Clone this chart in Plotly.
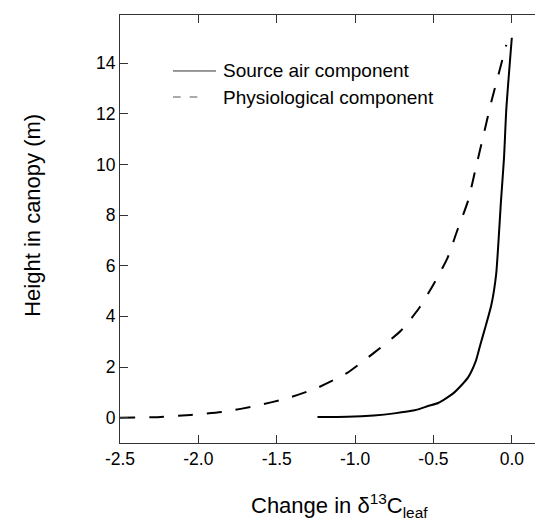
import plotly.graph_objects as go

# Source air component (solid)
source_x = [-1.24, -1.05, -0.88, -0.75, -0.62, -0.53, -0.47, -0.37, -0.28, -0.23,
            -0.20, -0.17, -0.13, -0.10, -0.085, -0.07, -0.05, -0.035, 0.0]
source_y = [0.03, 0.04, 0.09, 0.17, 0.29, 0.47, 0.58, 0.98, 1.58, 2.23,
            2.90, 3.55, 4.47, 5.66, 6.97, 8.48, 10.24, 12.19, 15.00]

# Physiological component (dashed)
physio_x = [-2.5, -2.26, -2.05, -1.83, -1.63, -1.43, -1.24, -1.05, -0.88, -0.71,
            -0.59, -0.50, -0.41, -0.35, -0.28, -0.225, -0.18, -0.13, -0.08, -0.035]
physio_y = [0.0, 0.02, 0.11, 0.24, 0.47, 0.77, 1.18, 1.77, 2.56, 3.42,
            4.34, 5.26, 6.31, 7.36, 8.55, 9.99, 11.17, 12.49, 13.67, 14.72]

x_ticks = [-2.5, -2.0, -1.5, -1.0, -0.5, 0.0]
x_tick_labels = ["-2.5", "-2.0", "-1.5", "-1.0", "-0.5", "0.0"]
y_ticks = [0, 2, 4, 6, 8, 10, 12, 14]
y_tick_labels = ["0", "2", "4", "6", "8", "10", "12", "14"]

legend_names = ["Source air component", "Physiological component"]

FONT = "Liberation Sans, Arial, Helvetica, sans-serif"

fig = go.Figure()
fig.add_trace(go.Scatter(x=source_x, y=source_y, mode="lines", name=legend_names[0],
                         line=dict(color="black", width=2, shape="spline", smoothing=0.6),
                         showlegend=False))
fig.add_trace(go.Scatter(x=physio_x, y=physio_y, mode="lines", name=legend_names[1],
                         line=dict(color="black", width=2, dash="15px,14px", shape="spline", smoothing=0.6),
                         showlegend=False))

axis_common = dict(
    showgrid=False, zeroline=False, showline=True, linecolor="#333", linewidth=1,
    mirror="ticks", ticks="inside", ticklen=8, tickcolor="#333", tickwidth=1,
    tickfont=dict(family=FONT, size=17.5, color="black"),
)

fig.update_xaxes(range=[-2.5, 0.25], tickvals=x_ticks, ticktext=x_tick_labels, **axis_common)
fig.update_yaxes(range=[-1, 15.9], tickvals=y_ticks, ticktext=y_tick_labels, **axis_common)

# manual legend
row1, row2 = 0.8692, 0.8084
fig.add_shape(type="line", xref="paper", yref="paper", x0=0.123, x1=0.2227, y0=row1, y1=row1,
              line=dict(color="#333", width=1))
for x0, x1 in [(0.123, 0.1408), (0.1617, 0.1794)]:
    fig.add_shape(type="line", xref="paper", yref="paper", x0=x0, x1=x1, y0=row2, y1=row2,
                  line=dict(color="#555", width=1))
fig.add_annotation(x=0.2343, y=row1, xref="paper", yref="paper", text=legend_names[0],
                   showarrow=False, xanchor="left", yanchor="middle",
                   font=dict(family=FONT, size=19, color="black"))
fig.add_annotation(x=0.2343, y=row2, xref="paper", yref="paper", text=legend_names[1],
                   showarrow=False, xanchor="left", yanchor="middle",
                   font=dict(family=FONT, size=19, color="black"))

# axis titles
fig.add_annotation(x=0.5104, y=-0.147, xref="paper", yref="paper",
                   text="Change in δ<sup>13</sup>C<sub>leaf</sub>",
                   showarrow=False, xanchor="center", yanchor="middle",
                   font=dict(family=FONT, size=22, color="black"))
fig.add_annotation(x=-0.202, y=0.533, xref="paper", yref="paper",
                   text="Height in canopy (m)", textangle=-90,
                   showarrow=False, xanchor="center", yanchor="middle",
                   font=dict(family=FONT, size=22, color="black"))

fig.update_layout(
    width=543, height=525,
    margin=dict(l=112, r=0, t=7, b=90),
    plot_bgcolor="white", paper_bgcolor="white",
    font=dict(family=FONT, color="black"),
)

fig.write_html("out.html")
